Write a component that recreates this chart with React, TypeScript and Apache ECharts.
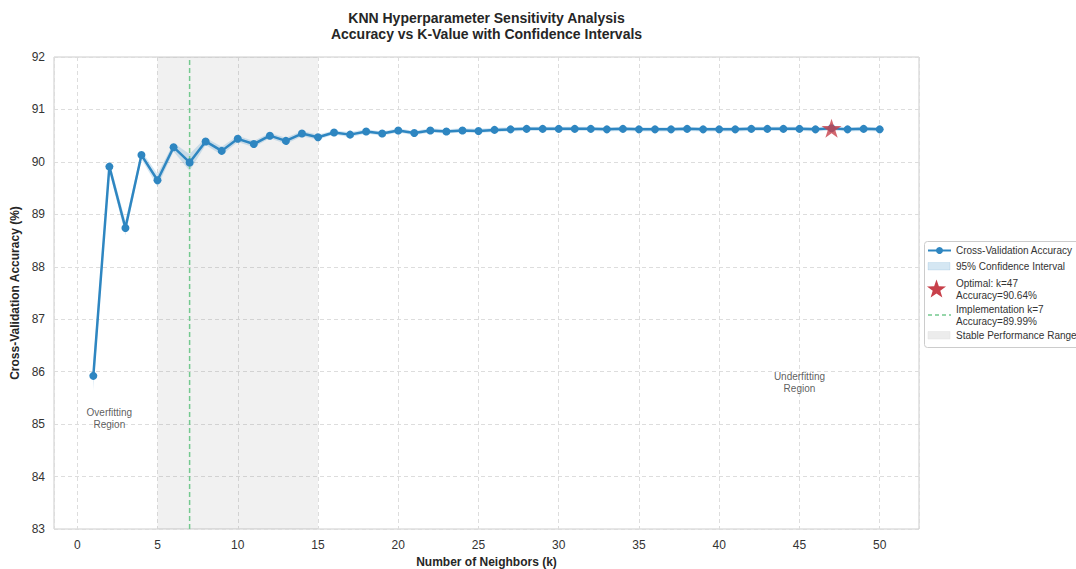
import React, { useEffect, useRef } from "react";
import * as echarts from "echarts";

const kValues = [
  1, 2, 3, 4, 5, 6, 7, 8, 9, 10, 11, 12, 13, 14, 15, 16, 17, 18, 19, 20, 21, 22, 23, 24, 25,
  26, 27, 28, 29, 30, 31, 32, 33, 34, 35, 36, 37, 38, 39, 40, 41, 42, 43, 44, 45, 46, 47, 48, 49, 50,
];
const accuracy = [
  85.92, 89.91, 88.74, 90.13, 89.65, 90.28, 89.99, 90.39, 90.21, 90.44,
  90.34, 90.5, 90.4, 90.54, 90.47, 90.56, 90.52, 90.58, 90.54, 90.6,
  90.55, 90.6, 90.58, 90.6, 90.59, 90.61, 90.62, 90.63, 90.63, 90.63,
  90.63, 90.63, 90.62, 90.63, 90.62, 90.62, 90.62, 90.63, 90.62, 90.62,
  90.62, 90.63, 90.63, 90.63, 90.63, 90.62, 90.64, 90.62, 90.63, 90.62,
];
const ciHalf = [
  0.28, 0.1, 0.14, 0.08, 0.12, 0.08, 0.16, 0.07, 0.08, 0.06,
  0.06, 0.05, 0.06, 0.05, 0.05, 0.04, 0.05, 0.04, 0.04, 0.04,
  0.04, 0.04, 0.04, 0.04, 0.04, 0.04, 0.04, 0.04, 0.04, 0.04,
  0.04, 0.04, 0.04, 0.04, 0.04, 0.04, 0.04, 0.04, 0.04, 0.04,
  0.04, 0.04, 0.04, 0.04, 0.04, 0.04, 0.04, 0.04, 0.04, 0.04,
];
const optimalK = 47;
const optimalAcc = 90.64;
const implementationK = 7;
const stableRange = [5, 15];
const annotationTexts = ["Overfitting\nRegion", "Underfitting\nRegion"];
const annotationX = [2, 45];
const annotationY = [85.1, 85.8];
const yTicks = { min: 83, max: 92, interval: 1 };
const xExtent = [-1.45, 52.45];

const titleLines = [
  "KNN Hyperparameter Sensitivity Analysis",
  "Accuracy vs K-Value with Confidence Intervals",
];
const legendLabels = [
  "Cross-Validation Accuracy",
  "95% Confidence Interval",
  "Optimal: k=47",
  "Accuracy=90.64%",
  "Implementation k=7",
  "Accuracy=89.99%",
  "Stable Performance Range",
];

const BLUE = "#2E86C1";
const RED = "#C8404A";
const GREEN = "#74C98F";
const FONT = "'Liberation Sans', Arial, sans-serif";
const STAR_PATH =
  "path://M0,-10 L2.245,-3.09 L9.511,-3.09 L3.633,1.18 L5.878,8.09 L0,3.82 L-5.878,8.09 L-3.633,1.18 L-9.511,-3.09 L-2.245,-3.09 Z";

function starPoints(cx: number, cy: number, R: number, r: number) {
  const pts: number[][] = [];
  for (let i = 0; i < 10; i++) {
    const rad = i % 2 === 0 ? R : r;
    const a = -Math.PI / 2 + (i * Math.PI) / 5;
    pts.push([cx + rad * Math.cos(a), cy + rad * Math.sin(a)]);
  }
  return pts;
}

export default function App() {
  const ref = useRef<HTMLDivElement>(null);
  useEffect(() => {
    if (!ref.current) return;
    const chart = echarts.init(ref.current, null, { renderer: "svg" });
    const legendText = (text: string, y: number) => ({
      type: "text",
      x: 956,
      y,
      style: {
        text,
        fill: "#333",
        fontSize: 10,
        fontFamily: FONT,
        textVerticalAlign: "middle",
        verticalAlign: "middle",
      },
    });
    const titleText = (text: string, y: number) => ({
      type: "text",
      x: 486.5,
      y,
      style: {
        text,
        fill: "#262626",
        fontSize: 14,
        fontWeight: "bold",
        fontFamily: FONT,
        textAlign: "center",
        textVerticalAlign: "middle",
        align: "center",
        verticalAlign: "middle",
      },
    });
    const option: any = {
      animation: false,
      backgroundColor: "#fff",
      textStyle: { fontFamily: FONT },
      grid: {
        left: 54,
        right: 157,
        top: 57,
        bottom: 40,
        containLabel: false,
        outerBoundsMode: "none",
        show: true,
        borderColor: "#cccccc",
        borderWidth: 1,
        backgroundColor: "#fff",
      },
      xAxis: {
        type: "value",
        min: xExtent[0],
        max: xExtent[1],
        splitNumber: 10,
        name: "Number of Neighbors (k)",
        nameLocation: "middle",
        nameGap: 21,
        nameTextStyle: { fontSize: 12, fontWeight: "bold", color: "#262626", fontFamily: FONT },
        axisLine: { show: false },
        axisTick: { show: false },
        axisLabel: {
          showMinLabel: false,
          showMaxLabel: false,
          fontSize: 12,
          color: "#333",
          margin: 10,
          fontFamily: FONT,
        },
        splitLine: { show: true, lineStyle: { color: "#dddddd", type: [4, 3], width: 1 } },
      },
      yAxis: {
        type: "value",
        min: yTicks.min,
        max: yTicks.max,
        interval: yTicks.interval,
        name: "Cross-Validation Accuracy (%)",
        nameLocation: "middle",
        nameGap: 27,
        nameTextStyle: { fontSize: 12, fontWeight: "bold", color: "#262626", fontFamily: FONT },
        axisLine: { show: false },
        axisTick: { show: false },
        axisLabel: { fontSize: 12, color: "#333", margin: 9, fontFamily: FONT },
        splitLine: { show: true, lineStyle: { color: "#dddddd", type: [4, 3], width: 1 } },
      },
      series: [
        {
          type: "custom",
          name: "95% Confidence Interval",
          clip: true,
          z: 2,
          data: kValues.map((k, i) => [k, accuracy[i] - ciHalf[i], accuracy[i] + ciHalf[i]]),
          renderItem: (params: any, api: any) => {
            if (params.dataIndex !== 0) return { type: "group", children: [] };
            const upper = kValues.map((k, i) => api.coord([k, accuracy[i] + ciHalf[i]]));
            const lower = kValues
              .map((k, i) => api.coord([k, accuracy[i] - ciHalf[i]]))
              .reverse();
            return {
              type: "polygon",
              shape: { points: upper.concat(lower) },
              style: { fill: "rgba(46,134,193,0.2)", stroke: "none" },
            };
          },
        },
        {
          type: "line",
          name: "Stable Performance Range",
          z: 1,
          data: [],
          markArea: {
            silent: true,
            itemStyle: { color: "rgba(128,128,128,0.11)" },
            data: [[{ xAxis: stableRange[0] }, { xAxis: stableRange[1] }]],
          },
        },
        {
          type: "line",
          name: "Implementation",
          z: 2,
          data: [
            [implementationK, yTicks.min],
            [implementationK, yTicks.max],
          ],
          symbol: "none",
          lineStyle: { color: GREEN, type: [5, 3], width: 1.5 },
          itemStyle: { color: GREEN },
        },
        {
          type: "line",
          name: "Cross-Validation Accuracy",
          z: 3,
          data: kValues.map((k, i) => [k, accuracy[i]]),
          symbol: "circle",
          symbolSize: 8,
          lineStyle: { color: BLUE, width: 2.5 },
          itemStyle: { color: BLUE },
        },
        {
          type: "scatter",
          name: "Optimal",
          z: 5,
          symbol: STAR_PATH,
          symbolKeepAspect: true,
          symbolSize: 20,
          itemStyle: { color: RED },
          data: [[optimalK, optimalAcc]],
        },
        {
          type: "scatter",
          name: "annotations",
          z: 6,
          symbolSize: 0,
          data: annotationTexts.map((t, i) => ({ name: t, value: [annotationX[i], annotationY[i]] })),
          label: {
            show: true,
            position: "inside",
            formatter: (p: any) => p.name,
            fontSize: 10,
            lineHeight: 12,
            color: "#333",
            fontFamily: FONT,
          },
        },
      ],
      graphic: [
        titleText(titleLines[0], 18),
        titleText(titleLines[1], 33.5),
        {
          type: "rect",
          shape: { x: 924.5, y: 241.5, width: 170, height: 106, r: 3 },
          style: { fill: "#fff", stroke: "#cccccc", lineWidth: 1 },
        },
        {
          type: "line",
          shape: { x1: 928, y1: 250.5, x2: 951, y2: 250.5 },
          style: { stroke: BLUE, lineWidth: 2 },
        },
        { type: "circle", shape: { cx: 939.5, cy: 250.5, r: 3.5 }, style: { fill: BLUE } },
        legendText(legendLabels[0], 250.5),
        {
          type: "rect",
          shape: { x: 928, y: 262.5, width: 22, height: 7.5 },
          style: { fill: "rgba(46,134,193,0.2)", stroke: "rgba(46,134,193,0.25)", lineWidth: 0.5 },
        },
        legendText(legendLabels[1], 266.5),
        {
          type: "polygon",
          shape: { points: starPoints(936.5, 289.5, 10, 4) },
          style: { fill: RED },
        },
        legendText(legendLabels[2], 283),
        legendText(legendLabels[3], 295.5),
        {
          type: "line",
          shape: { x1: 928, y1: 315, x2: 951, y2: 315 },
          style: { stroke: GREEN, lineWidth: 1.3, lineDash: [4, 3] },
        },
        legendText(legendLabels[4], 309),
        legendText(legendLabels[5], 321.5),
        {
          type: "rect",
          shape: { x: 928, y: 331.5, width: 22, height: 7.5 },
          style: { fill: "#ececec", stroke: "#e2e2e2", lineWidth: 0.5 },
        },
        legendText(legendLabels[6], 335.5),
      ],
    };
    chart.setOption(option);
    return () => chart.dispose();
  }, []);
  return (
    <div
      ref={ref}
      style={{ position: "absolute", left: 0, top: 0, width: 1076, height: 569, overflow: "hidden" }}
    />
  );
}
